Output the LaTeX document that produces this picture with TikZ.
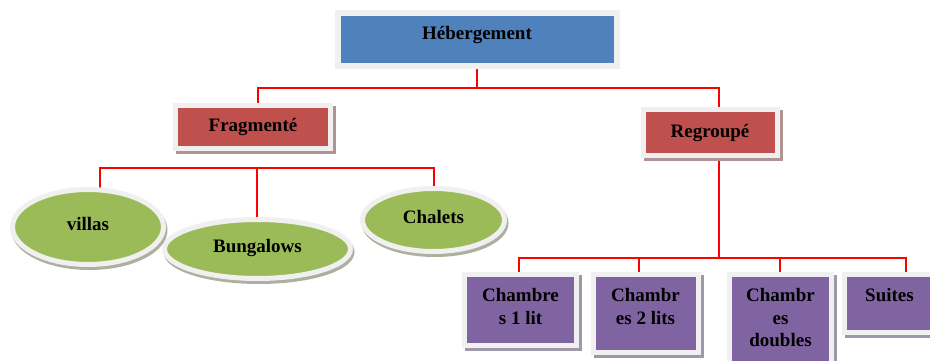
\documentclass[tikz,border=0pt]{standalone}
\usepackage{fontspec}
\setmainfont{Liberation Serif}
\usetikzlibrary{shapes.geometric}

\definecolor{hebblue}{HTML}{4F81BD}
\definecolor{catred}{HTML}{C0504D}
\definecolor{leafgreen}{HTML}{9BBB59}
\definecolor{roompurple}{HTML}{8064A2}
\definecolor{framegray}{HTML}{F0F0F0}
\definecolor{linkred}{HTML}{FF0000}

% text block that starts at the top of a room box
\newcommand{\toplines}[3]{\parbox[c][#2][t]{#1}{\centering\vspace*{11.5pt}\strut #3}}

\tikzset{
  every node/.style={font=\bfseries\fontsize{19}{22.5}\selectfont},
  framed/.style={draw=framegray, line width=5pt},
  boxshadow/.style={preaction={fill=#1!35!gray!75, draw=#1!35!gray!75, line width=5pt,
      transform canvas={shift={(3pt,-3pt)}}}},
  ovalshadow/.style={preaction={fill=#1!25!gray!70, draw=#1!25!gray!70, line width=5pt,
      transform canvas={shift={(1.5pt,-3pt)}}}},
  catbox/.style={framed, rectangle, inner sep=0pt, fill=catred, boxshadow=catred},
  roombox/.style={framed, rectangle, inner sep=0pt, fill=roompurple, boxshadow=roompurple},
  leaf/.style={framed, ellipse, inner sep=0pt, fill=leafgreen, ovalshadow=leafgreen,
      text height=13pt, text depth=6pt},
  link/.style={draw=linkred, line width=2pt},
}

\begin{document}
\begin{tikzpicture}[x=1pt, y=-1pt]
\useasboundingbox (0,0) rectangle (930,361);
\clip (0,0) rectangle (930,361);

% junction points of the tree
\coordinate (fd) at (258,88.5);
\coordinate (rd) at (719,88.5);
\coordinate (lbar) at (100,168);
\coordinate (mbar) at (257,168);
\coordinate (rbar) at (434,168);
\coordinate (rb) at (719,257.5);
\coordinate (d1) at (519,257.5);
\coordinate (d2) at (639,257.5);
\coordinate (d3) at (780,257.5);
\coordinate (d4) at (906,257.5);

% node positions (shapes are drawn after the connectors)
\path (477,39.5) coordinate (pheb);

% connectors
\draw[link] (pheb) -- (pheb |- fd);
\draw[link] (fd |- 0,106) -- (fd) -- (rd) -- (rd |- 0,110);
\draw[link] (lbar |- 0,195) -- (lbar) -- (rbar) -- (rbar |- 0,192);
\draw[link] (mbar) -- (mbar |- 0,222);
\draw[link] (rb |- 0,150) -- (rb);
\draw[link] (d1 |- 0,276) -- (d1) -- (d4) -- (d4 |- 0,276);
\draw[link] (d2) -- (d2 |- 0,276);
\draw[link] (d3) -- (d3 |- 0,276);

% top level
\node[draw=framegray, line width=6pt, fill=hebblue, rectangle, inner sep=0pt,
      minimum width=279pt, minimum height=53pt, text depth=13pt] (heb) at (pheb) {Hébergement};

% second level
\node[catbox, minimum width=154.5pt, minimum height=43pt] (frag) at (253,127) {Fragmenté};
\node[catbox, minimum width=134pt, minimum height=45pt] (reg) at (710,132.5) {Regroupé};

% fragmented housing
\node[leaf, minimum width=151pt, minimum height=75pt] (villas) at (88,227) {villas};
\node[leaf, minimum width=186pt, minimum height=59pt] (bung) at (257.5,249) {Bungalows};
\node[leaf, minimum width=142pt, minimum height=63pt] (chal) at (433.5,220) {Chalets};

% grouped housing
\node[roombox] (r1) at (520.5,310) {\toplines{112pt}{71pt}{Chambre\\s 1 lit}};
\node[roombox] (r2) at (645.5,313.5) {\toplines{105pt}{78pt}{Chambr\\es 2 lits}};
\node[roombox] (r3) at (780.5,327.25) {\toplines{102pt}{105.5pt}{Chambr\\es\\doubles}};
\node[roombox] (r4) at (889.5,303.5) {\toplines{91pt}{58pt}{Suites}};
\end{tikzpicture}
\end{document}
